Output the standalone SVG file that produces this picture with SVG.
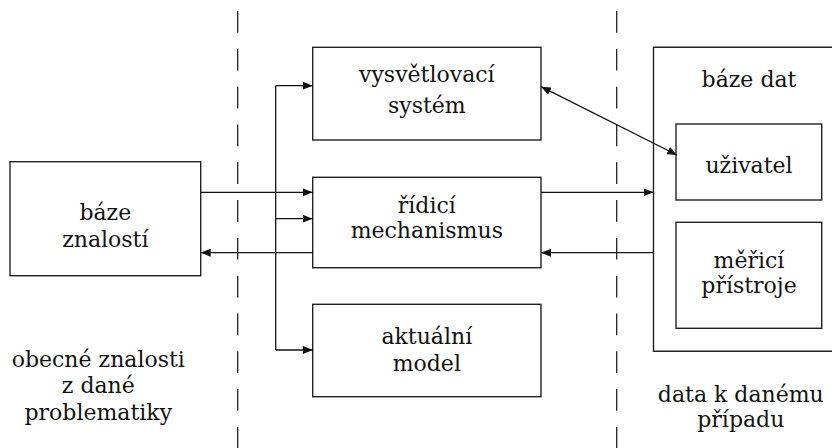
<svg xmlns="http://www.w3.org/2000/svg" width="832" height="448" viewBox="0 0 832 448">
<defs>
<marker id="ah" viewBox="0 0 10 8" refX="10" refY="4" markerWidth="10" markerHeight="8" markerUnits="userSpaceOnUse" orient="auto-start-reverse">
<path d="M0,0 L10,4 L0,8 Z" fill="#111"/>
</marker>
</defs>
<style>
.box{fill:#fff;stroke:#222;stroke-width:1.4}
.ln{fill:none;stroke:#111;stroke-width:1.3}
.dash{fill:none;stroke:#222;stroke-width:1.3;stroke-dasharray:21.7 16.1;stroke-dashoffset:26.7}
.t{font-family:'DejaVu Serif','Liberation Serif',serif;font-size:22px;fill:#111;text-anchor:middle}
</style>
<rect width="832" height="448" fill="#fff"/>
<g id="separators">
<line class="dash" x1="237.7" y1="0" x2="237.7" y2="448"/>
<line class="dash" x1="616.7" y1="0" x2="616.7" y2="448"/>
</g>
<g id="baze-znalosti">
<rect class="box" x="10" y="161.7" width="190.7" height="114"/>
<text class="t" x="105.3" y="220">báze</text>
<text class="t" x="105.3" y="246.7">znalostí</text>
</g>
<g id="vysvetlovaci-system">
<rect class="box" x="312.7" y="47.3" width="228.3" height="92.7"/>
<text class="t" x="426.8" y="81.7">vysvětlovací</text>
<text class="t" x="426.8" y="113">systém</text>
</g>
<g id="ridici-mechanismus">
<rect class="box" x="312.7" y="177.3" width="228.3" height="90.4"/>
<text class="t" x="426.8" y="212.7">řídicí</text>
<text class="t" x="426.8" y="238.3">mechanismus</text>
</g>
<g id="aktualni-model">
<rect class="box" x="312.7" y="304.3" width="228.3" height="92.4"/>
<text class="t" x="426.8" y="344">aktuální</text>
<text class="t" x="426.8" y="370.7">model</text>
</g>
<g id="baze-dat">
<path class="box" d="M840,47.3 H653.5 V351.3 H840"/>
<text class="t" x="749" y="86.7">báze dat</text>
</g>
<g id="uzivatel">
<rect class="box" x="676" y="124" width="145.7" height="76"/>
<text class="t" x="749" y="172.7">uživatel</text>
</g>
<g id="merici-pristroje">
<rect class="box" x="676" y="222.3" width="145.7" height="106"/>
<text class="t" x="749" y="268.3">měřicí</text>
<text class="t" x="749" y="292.7">přístroje</text>
</g>
<g id="labels">
<text class="t" x="98.3" y="366.7">obecné znalosti</text>
<text class="t" x="98.3" y="393.3">z dané</text>
<text class="t" x="98.3" y="420">problematiky</text>
<text class="t" x="740.8" y="401.7">data k danému</text>
<text class="t" x="740.8" y="426.7">případu</text>
</g>
<g id="connectors">
<line class="ln" x1="200.7" y1="192.3" x2="312.7" y2="192.3" marker-end="url(#ah)"/>
<line class="ln" x1="312.7" y1="252.7" x2="200.7" y2="252.7" marker-end="url(#ah)"/>
<line class="ln" x1="275.7" y1="85.7" x2="275.7" y2="350"/>
<line class="ln" x1="275.7" y1="85.7" x2="312.7" y2="85.7" marker-end="url(#ah)"/>
<line class="ln" x1="275.7" y1="218.7" x2="312.7" y2="218.7" marker-end="url(#ah)"/>
<line class="ln" x1="275.7" y1="350" x2="312.7" y2="350" marker-end="url(#ah)"/>
<line class="ln" x1="541" y1="192.3" x2="653.5" y2="192.3" marker-end="url(#ah)"/>
<line class="ln" x1="653.5" y1="252.7" x2="541" y2="252.7" marker-end="url(#ah)"/>
<line class="ln" x1="541" y1="86.7" x2="677" y2="155" stroke-width="1.6" marker-start="url(#ah)" marker-end="url(#ah)"/>
</g>
</svg>
